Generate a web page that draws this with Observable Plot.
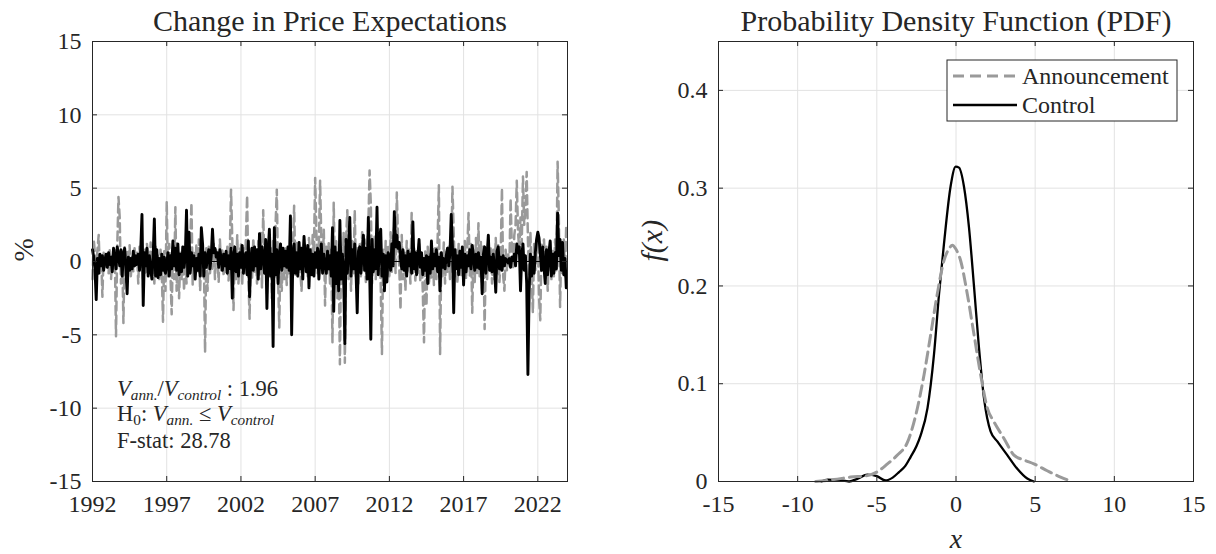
<!DOCTYPE html>
<html><head><meta charset="utf-8">
<script src="https://cdn.jsdelivr.net/npm/d3@7"></script>
<script src="https://cdn.jsdelivr.net/npm/@observablehq/plot@0.6"></script>
<style>
html,body{margin:0;padding:0;background:#fff;}
#wrap{display:flex;width:1216px;height:554px;overflow:hidden;}
svg{display:block;}
</style></head><body><div id="wrap"></div>
<script>
// ---------- data ----------
const startYear = 1992; // monthly observations, Jan 1992 .. Dec 2023
const announcement = [
 -1.2, 1.5, 0.5, -0.6, 0.8, 1.8, -0.8, 0.4, -2.4, 0.6, -0.4, 0.3,
 0.5, -0.8, 0.9, -1.2, 0.4, -0.5, 0.8, -5.1, 1.0, 4.4, 3.0, -1.5,
 0.6, -4.2, 1.0, -1.4, 0.8, -0.6, 1.1, -1.0, 0.3, -0.7, 0.9, -0.2,
 0.6, -1.5, 1.0, -0.4, 1.6, -1.8, 0.8, -0.9, 1.2, 0.4, -0.8, 1.3,
 -0.6, 0.9, -1.5, 1.0, -0.5, 0.4, -1.2, 0.8, -0.6, -4.1, 0.7, -2.0,
 4.1, -1.0, 1.2, -0.8, -3.6, 0.9, -1.2, 3.7, -2.0, 1.0, -2.5, 0.6,
 -1.2, 1.0, -2.0, 0.5, -1.5, 0.8, -0.4, 1.3, 4.0, -1.6, 0.6, -0.9,
 1.2, -0.8, 1.5, -2.0, 0.6, -1.0, 0.5, -6.2, 0.9, -2.0, 1.0, -0.8,
 0.7, -0.5, 1.2, -1.2, 0.8, 0.3, -1.4, 1.5, -0.6, 0.9, -1.0, 0.5,
 -0.8, 1.0, -1.3, 0.6, 4.9, 1.5, -3.3, 0.8, -1.2, 1.8, -1.5, 0.6,
 1.2, -1.6, 0.9, -0.8, 1.5, 4.5, -1.0, -3.9, 0.9, -1.2, 1.6, -0.7,
 0.8, -1.5, 1.4, -0.9, 2.0, -1.8, 3.5, -0.6, 1.2, -2.2, 1.5, -1.0,
 0.9, -2.5, 1.4, -1.2, 2.5, 4.9, -1.0, -4.5, 1.2, -2.0, 0.8, -1.2,
 1.0, -1.6, 0.5, -0.8, 1.2, -1.5, 0.6, 3.8, -0.9, 1.4, -1.0, 0.7,
 -0.6, -2.0, 0.9, 1.5, -0.7, 0.8, -1.0, 1.6, 0.4, -0.9, 1.8, 0.6,
 5.7, 2.0, -0.8, 1.2, 5.5, 1.4, -0.6, 2.2, -3.0, 1.0, -0.8, 1.3,
 -1.5, 0.8, -5.5, 4.0, -1.2, 1.5, -2.5, 0.6, -7.0, 1.0, -1.5, 2.0,
 -6.9, 1.5, 3.5, -1.2, 1.0, -2.0, 1.4, -0.8, 3.5, -1.0, 0.9, -1.5,
 1.2, -1.0, 2.0, -0.6, 1.5, -1.4, 0.8, 2.5, 6.2, 3.9, -1.5, 0.6,
 1.8, -1.2, 2.4, -0.5, 1.0, -1.6, -6.3, 0.8, -1.8, 1.4, -0.9, 1.0,
 -1.0, 2.0, -0.7, 1.6, 2.4, -0.8, 4.7, 1.5, -0.4, -3.3, 1.8, -1.2,
 0.6, -2.0, 1.4, -0.6, 0.8, -1.5, 3.3, -0.9, 1.0, -1.3, 0.7, -0.8,
 1.2, -1.4, 0.6, -2.0, -5.5, 0.8, -3.0, 1.0, -1.6, 0.5, -1.2, 0.9,
 -1.6, 0.9, -1.2, 1.5, 5.2, -6.3, 0.6, -1.0, 1.3, -1.5, 0.8, -0.7,
 1.0, -1.2, 0.6, 5.1, 2.0, -1.0, 0.8, -1.5, 1.2, -0.6, -1.0, 0.9,
 -0.8, 1.4, -1.2, 0.9, 3.3, -1.0, 1.2, -3.5, 0.8, -1.4, 1.6, -0.9,
 2.6, -1.0, 1.4, -2.0, 1.0, -4.6, 0.8, -1.2, 1.5, -0.6, 1.0, -1.5,
 0.9, -1.2, 1.6, -0.8, 1.1, -1.4, 0.5, 5.0, -1.0, -2.0, 0.8, -0.6,
 0.6, -0.4, 4.3, 1.0, -0.5, 1.8, 2.5, 5.5, 2.0, 0.8, 3.0, 1.2,
 5.8, 2.5, 3.5, 6.1, 1.5, -1.0, 2.0, -0.8, -3.5, 1.2, -0.6, 1.0,
 1.5, -2.5, -4.0, 1.2, 0.8, 1.5, -0.8, 1.0, -2.0, 0.6, 1.3, -1.2,
 0.8, -1.0, 1.5, -0.6, 6.8, 3.0, -3.1, 1.2, -0.8, 1.5, -1.0, 2.6
];
const control = [
 0.8, 0.3, -0.5, -2.6, 0.2, -0.8, 0.5, -0.3, 0.4, -0.6, 0.1, 0.5,
 -0.4, 0.6, -0.2, 0.3, -0.7, 0.9, 0.2, -0.5, 1.0, 0.4, -0.3, 0.8,
 -1.0, 0.5, 0.9, -0.4, -2.2, 0.3, -0.6, 0.2, -0.5, 0.7, -0.3, 0.4,
 -0.2, 0.5, -0.6, 0.8, 3.2, -3.0, 0.6, -0.3, 0.9, -1.0, 0.4, -0.5,
 -1.2, 0.3, 2.9, -1.0, 0.8, -1.1, 0.2, -0.9, 0.5, -0.6, 0.3, -0.8,
 -0.2, 0.6, -1.0, 0.4, -0.5, 1.4, -0.3, 0.9, -0.6, 1.2, -0.9, 0.5,
 -0.7, 1.0, -0.4, 0.3, 3.5, -1.0, 2.0, -0.8, 0.6, -0.3, 0.4, -1.2,
 0.2, -0.6, 0.5, -1.0, 2.3, 1.2, -1.0, 0.6, -0.4, 0.3, 0.8, -0.5,
 0.4, 2.2, 0.6, 0.9, 0.3, 0.6, -0.4, 0.8, 0.2, -0.6, 0.5, -0.3,
 0.7, -0.8, 0.4, -0.5, 0.9, -2.5, 0.3, 1.0, -0.7, 0.5, -1.0, 0.6,
 -0.4, 1.1, -0.8, 0.3, 0.6, -0.9, 1.4, -2.4, 0.2, 0.9, -0.6, 1.0,
 -0.3, 0.8, -1.2, 1.9, -0.5, 1.0, 0.4, -0.8, 1.5, -3.2, 0.6, 2.2,
 -1.0, 0.5, -5.8, 2.3, -0.9, 0.8, -1.5, 0.4, 1.2, -0.6, 0.9, -0.3,
 0.7, -0.4, 1.0, -0.6, 3.1, -5.0, 0.5, 1.2, -0.8, 0.6, -1.0, 1.3,
 -0.5, 0.9, -1.2, 1.7, 0.3, -0.7, 1.1, -1.8, 0.8, -0.9, 0.5, -1.0,
 0.6, -0.4, 0.9, -1.2, 0.3, 1.2, -0.8, 0.5, -0.3, -0.8, 0.7, -0.5,
 0.4, -1.0, 2.3, -3.4, 1.0, -1.5, 0.6, -2.0, 2.8, -1.2, 0.5, -0.8,
 -5.6, 1.5, -0.8, 0.6, 3.0, -1.0, 0.8, -0.5, 1.2, -0.6, -3.5, 0.7,
 1.0, -0.8, 0.5, 1.8, -0.6, 0.9, -1.2, 3.0, -0.4, -5.3, 1.5, -0.7,
 0.8, -0.5, 3.7, -0.9, 1.4, 2.2, -1.0, 0.5, -2.0, 0.4, -1.4, 0.6,
 0.3, -0.6, 1.2, -0.3, 3.4, 1.0, 1.8, 0.9, 1.3, 0.2, -0.5, 0.8,
 -0.6, 0.4, -1.0, 0.7, -0.3, 0.5, -0.8, 2.7, -0.5, 0.6, -0.9, 0.3,
 1.5, -0.4, 0.6, -0.9, 0.2, -0.6, 0.4, -1.5, 0.3, -0.8, 1.4, -0.5,
 0.5, -0.3, 0.8, -0.7, 0.3, -2.0, 0.6, -0.4, 0.2, -0.5, 0.4, 0.9,
 -0.3, 0.6, 3.2, 1.0, -3.5, 0.8, -0.5, 0.4, -0.9, 0.7, -0.4, 1.0,
 -1.6, 0.5, -0.7, 0.4, -0.3, 0.8, -0.5, 1.1, 0.3, -0.6, 0.5, -0.4,
 0.6, -0.5, 0.3, -2.2, 0.5, 1.0, -0.8, 0.4, 1.8, -0.6, 0.3, -0.7,
 0.5, -0.4, -2.1, 0.7, 1.0, -0.5, 0.3, -0.6, 0.4, -0.3, 0.2, 0.1,
 -0.1, 0.2, -0.4, 0.3, 0.1, 0.5, -0.3, 1.2, 0.6, 1.0, -2.0, 0.4,
 1.2, -0.6, 0.4, -1.5, -7.7, -2.0, 0.5, -1.0, 0.3, -0.8, 0.6, 1.5,
 2.0, 1.6, 0.5, -0.6, 1.0, -0.4, -1.5, 0.8, -0.9, 0.6, 1.4, -1.0,
 0.5, -0.8, 0.6, -0.5, 3.3, 0.4, 1.5, -0.6, 1.3, -0.9, 0.2, -1.8
];
const yearTicks = [1992, 1997, 2002, 2007, 2012, 2017, 2022];
const pctTicks = [-15, -10, -5, 0, 5, 10, 15];

const pdfCtrlX = [-8.5,-8.1,-7.4,-6.75,-6.2,-5.6,-5.0,-4.44,-4.0,-3.6,-3.2,-2.87,-2.5,-2.24,-1.8,-1.39,-1.07,-0.76,-0.34,-0.02,0.19,0.5,0.82,1.14,1.45,1.77,2.19,2.61,3.24,3.87,4.5,4.92];
const pdfCtrlY = [0,0.002,0.0015,0.0,0.003,0.007,0.0055,0.001,0.004,0.0096,0.016,0.025,0.036,0.047,0.075,0.13,0.192,0.243,0.302,0.322,0.321,0.302,0.26,0.199,0.137,0.085,0.051,0.041,0.027,0.013,0.003,0];
const pdfAnnX = [-8.86,-7.7,-6.65,-5.6,-5.0,-4.33,-3.7,-3.07,-2.54,-2.02,-1.6,-1.18,-0.76,-0.44,-0.23,-0.02,0.29,0.71,1.14,1.56,1.98,2.4,3.03,3.66,4.29,4.92,5.76,6.6,7.34];
const pdfAnnY = [0,0.002,0.0045,0.006,0.0096,0.018,0.027,0.04,0.068,0.109,0.15,0.192,0.226,0.238,0.2416,0.238,0.226,0.192,0.15,0.109,0.075,0.061,0.044,0.027,0.022,0.018,0.011,0.0045,0];
const pdfXTicks = [-15, -10, -5, 0, 5, 10, 15];
const pdfYTicks = [0, 0.1, 0.2, 0.3, 0.4];
const seriesNames = ["Announcement", "Control"];

// ---------- layout / style ----------
const FONT = "'Liberation Serif', 'Times New Roman', serif";
const INK = "#262626", GRAY = "#9a9a9a", GRID = "#e2e2e2";
const W = 608, H = 554, MT = 41, MB = 73;
const innerH = H - MT - MB;
const TICKLEN = 5;

const annRows = announcement.map((v, i) => ({t: startYear + i / 12, v}));
const ctrlRows = control.map((v, i) => ({t: startYear + i / 12, v}));
const annPdf = pdfAnnX.map((x, i) => ({x, y: pdfAnnY[i]}));
const ctrlPdf = pdfCtrlX.map((x, i) => ({x, y: pdfCtrlY[i]}));

function frameTicks(xt, yt, innerW) {
  return [
    Plot.ruleX(xt, {insetTop: innerH - TICKLEN, stroke: INK}),
    Plot.ruleX(xt, {insetBottom: innerH - TICKLEN, stroke: INK}),
    Plot.ruleY(yt, {insetRight: innerW - TICKLEN, stroke: INK}),
    Plot.ruleY(yt, {insetLeft: innerW - TICKLEN, stroke: INK})
  ];
}
const axisText = {fontSize: 24, fontFamily: FONT};

// ---------- left panel ----------
const LML = 92, LMR = 41;
const left = Plot.plot({
  width: W, height: H,
  marginLeft: LML, marginRight: LMR, marginTop: MT, marginBottom: MB,
  style: {fontFamily: FONT, fontSize: "24px", color: INK, background: "#fff", overflow: "visible"},
  x: {domain: [1992, 2024]},
  y: {domain: [-15, 15]},
  marks: [
    Plot.gridX(yearTicks, {stroke: GRID, strokeOpacity: 1}),
    Plot.gridY(pctTicks, {stroke: GRID, strokeOpacity: 1}),
    Plot.line(annRows, {x: "t", y: "v", stroke: GRAY, strokeWidth: 2.5, strokeDasharray: "9,5"}),
    Plot.line(ctrlRows, {x: "t", y: "v", stroke: "#000", strokeWidth: 2.9}),
    Plot.ruleY([0], {stroke: "#000", strokeWidth: 1}),
    ...frameTicks(yearTicks, pctTicks, W - LML - LMR),
    Plot.frame({stroke: INK}),
    Plot.axisX(yearTicks, {tickSize: 0, tickPadding: 13, tickFormat: d => String(d), label: null, ...axisText}),
    Plot.axisY(pctTicks, {tickSize: 0, tickPadding: 11, tickFormat: d => String(d), label: null, ...axisText}),
    Plot.text(["Change in Price Expectations"], {text: d => d, frameAnchor: "top", lineAnchor: "bottom", dy: -11, fontSize: 30}),
    Plot.text(["%"], {text: d => d, frameAnchor: "left", rotate: -90, dx: -68, fontSize: 28})
  ]
});

// ---------- right panel ----------
const RML = 110, RMR = 23;
const right = Plot.plot({
  width: W, height: H,
  marginLeft: RML, marginRight: RMR, marginTop: MT, marginBottom: MB,
  style: {fontFamily: FONT, fontSize: "24px", color: INK, background: "#fff", overflow: "visible"},
  x: {domain: [-15, 15]},
  y: {domain: [0, 0.45]},
  marks: [
    Plot.gridX(pdfXTicks, {stroke: GRID, strokeOpacity: 1}),
    Plot.gridY(pdfYTicks, {stroke: GRID, strokeOpacity: 1}),
    Plot.line(ctrlPdf, {x: "x", y: "y", stroke: "#000", strokeWidth: 2.3, curve: "monotone-x"}),
    Plot.line(annPdf, {x: "x", y: "y", stroke: GRAY, strokeWidth: 3, strokeDasharray: "11,6", curve: "monotone-x"}),
    ...frameTicks(pdfXTicks, pdfYTicks, W - RML - RMR),
    Plot.frame({stroke: INK}),
    Plot.axisX(pdfXTicks, {tickSize: 0, tickPadding: 13, tickFormat: d => String(d), label: null, ...axisText}),
    Plot.axisY(pdfYTicks, {tickSize: 0, tickPadding: 11, tickFormat: d => String(d), label: null, ...axisText}),
    Plot.text(["Probability Density Function (PDF)"], {text: d => d, frameAnchor: "top", lineAnchor: "bottom", dy: -11, fontSize: 30}),
    Plot.text(["f(x)"], {text: d => d, frameAnchor: "left", rotate: -90, dx: -66, fontSize: 30, fontStyle: "italic"}),
    Plot.text(["x"], {text: d => d, frameAnchor: "bottom", lineAnchor: "bottom", dy: 66, fontSize: 28, fontStyle: "italic"})
  ]
});

document.getElementById("wrap").append(left, right);

// ---------- annotation with sub-scripts (left panel) ----------
function richLine(svg, x, y, parts, size) {
  const t = d3.select(svg).append("text")
    .attr("x", x).attr("y", y).attr("text-anchor", "start")
    .attr("font-family", FONT).attr("font-size", size).attr("fill", INK);
  let shifted = false;
  const off = size * 0.16;
  for (const p of parts) {
    const s = t.append("tspan").text(p.t);
    if (p.i) s.attr("font-style", "italic");
    if (p.sub) {
      s.attr("font-size", size * 0.68);
      if (!shifted) { s.attr("dy", off); shifted = true; }
    } else if (shifted) {
      s.attr("dy", -off); shifted = false;
    }
  }
  return t;
}
const AX = LML + 25, AS = 22.5;
richLine(left, AX, H - MB - 85, [
  {t: "V", i: 1}, {t: "ann.", i: 1, sub: 1}, {t: "/"}, {t: "V", i: 1}, {t: "control", i: 1, sub: 1}, {t: " : 1.96"}
], AS);
richLine(left, AX, H - MB - 60, [
  {t: "H"}, {t: "0", sub: 1}, {t: ": "}, {t: "V", i: 1}, {t: "ann.", i: 1, sub: 1}, {t: " \u2264 "}, {t: "V", i: 1}, {t: "control", i: 1, sub: 1}
], AS);
richLine(left, AX, H - MB - 33, [{t: "F-stat: 28.78"}], AS);

// ---------- legend (right panel) ----------
const lg = d3.select(right).append("g");
const LX = 339, LY = 60, LW = 230, LH = 61;
lg.append("rect").attr("x", LX).attr("y", LY).attr("width", LW).attr("height", LH)
  .attr("fill", "#fff").attr("stroke", INK).attr("stroke-width", 1);
const legendItems = [
  {name: seriesNames[0], stroke: GRAY, width: 3, dash: "11,6"},
  {name: seriesNames[1], stroke: "#000", width: 2.6, dash: null}
];
legendItems.forEach((d, i) => {
  const cy = LY + 16 + i * 29;
  const ln = lg.append("line").attr("x1", LX + 6).attr("x2", LX + 70).attr("y1", cy).attr("y2", cy)
    .attr("stroke", d.stroke).attr("stroke-width", d.width);
  if (d.dash) ln.attr("stroke-dasharray", d.dash);
  lg.append("text").attr("x", LX + 75).attr("y", cy + 7.5).attr("text-anchor", "start")
    .attr("font-family", FONT).attr("font-size", 24).attr("fill", INK).text(d.name);
});
</script>
</body></html>
